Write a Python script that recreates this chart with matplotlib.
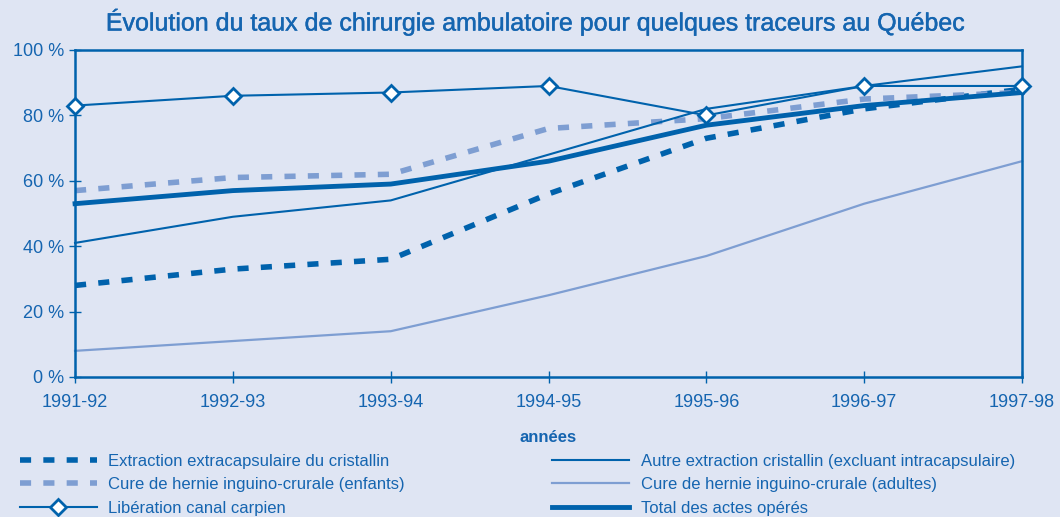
import matplotlib.pyplot as plt
import matplotlib.patheffects as pe

# données
annees = ['1991-92', '1992-93', '1993-94', '1994-95', '1995-96', '1996-97', '1997-98']
extracapsulaire = [28, 33, 36, 56, 73, 82, 88]
autre_extraction = [41, 49, 54, 68, 82, 89, 95]
hernie_enfants = [57, 61, 62, 76, 79, 85, 87]
hernie_adultes = [8, 11, 14, 25, 37, 53, 66]
canal_carpien = [83, 86, 87, 89, 80, 89, 89]
total = [53, 57, 59, 66, 77, 83, 87]

fond = '#DFE5F3'
bleu = '#0062AC'
bleu_clair = '#7E9ED2'
texte = '#1565B0'

plt.rcParams['font.family'] = ['Liberation Sans', 'DejaVu Sans']

fig = plt.figure(figsize=(10.6, 5.17), dpi=100, facecolor=fond)
ax = fig.add_axes([0.0708, 0.2708, 0.8934, 0.6325], facecolor=fond)

x = range(len(annees))

l1, = ax.plot(x, extracapsulaire, color=bleu, lw=4, dashes=(2, 2.2),
              label='Extraction extracapsulaire du cristallin', clip_on=False)
l2, = ax.plot(x, hernie_enfants, color=bleu_clair, lw=4, dashes=(2, 2.2),
              label='Cure de hernie inguino-crurale (enfants)', clip_on=False)
l3, = ax.plot(x, canal_carpien, color=bleu, lw=1.5, marker='D', markersize=8.5,
              markerfacecolor='white', markeredgecolor=bleu, markeredgewidth=2,
              label='Libération canal carpien', clip_on=False, zorder=5)
l4, = ax.plot(x, autre_extraction, color=bleu, lw=1.5,
              label='Autre extraction cristallin (excluant intracapsulaire)', clip_on=False)
l5, = ax.plot(x, hernie_adultes, color=bleu_clair, lw=1.6,
              label='Cure de hernie inguino-crurale (adultes)', clip_on=False)
l6, = ax.plot(x, total, color=bleu, lw=3.5,
              label='Total des actes opérés', clip_on=False)

ax.set_xlim(0, len(annees) - 1)
ax.set_ylim(0, 100)
ax.set_xticks(list(x))
ax.set_xticklabels(annees)
ax.set_yticks(range(0, 101, 20))
ax.set_yticklabels([f'{v} %' for v in range(0, 101, 20)])
ax.tick_params(direction='inout', length=8, width=1, color=bleu,
               labelcolor=texte, labelsize=13)
ax.tick_params(axis='x', pad=8)
ax.tick_params(axis='y', pad=4)
for s in ax.spines.values():
    s.set_color(bleu)
    s.set_linewidth(1.8)

ax.set_xlabel('années', color=texte, fontsize=12, fontweight='bold', labelpad=14)
titre = ax.set_title('Évolution du taux de chirurgie ambulatoire pour quelques traceurs au Québec',
                     color=texte, fontsize=18, pad=14, x=0.486)
titre.set_path_effects([pe.withStroke(linewidth=0.3, foreground=texte)])

# légende en deux colonnes
opts = dict(loc='upper left', frameon=False, fontsize=12, labelcolor=texte,
            handlelength=4.6, handletextpad=0.7, labelspacing=0.5, borderaxespad=0,
            borderpad=0)
leg1 = fig.legend(handles=[l1, l2, l3], bbox_to_anchor=(0.019, 0.122), **opts)
leg2 = fig.legend(handles=[l4, l5, l6], bbox_to_anchor=(0.521, 0.122), **opts)

fig.savefig('out.png', dpi=100, facecolor=fond)
